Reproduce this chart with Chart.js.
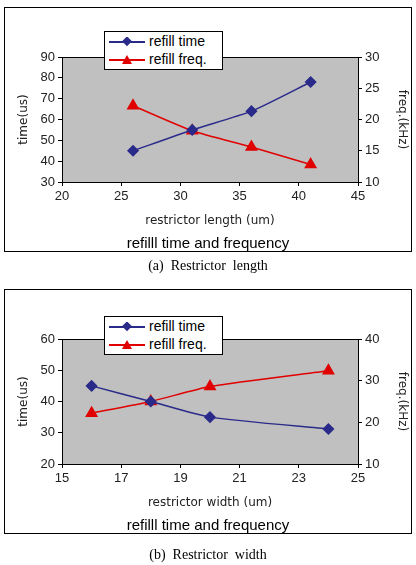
<!DOCTYPE html>
<html><head><meta charset="utf-8">
<script src="https://cdn.jsdelivr.net/npm/chart.js@4"></script>
<style>
body{margin:0;background:#fff;width:416px;height:565px;position:relative;font-family:"Liberation Sans",Arial,sans-serif;overflow:hidden}
.box{position:absolute;left:4px;width:406px;height:243px;border:1px solid #000}
.box canvas{position:absolute;left:0;top:0}
.leg{position:absolute;left:99px;width:117px;height:37px;border:1px solid #000;background:#fff;font-size:14px}
.leg div{height:18px;line-height:18px;white-space:nowrap}
.leg svg{vertical-align:middle;margin:0 4px 0 4px}
.sub{position:absolute;left:0;width:406px;top:226px;text-align:center;font-size:15px}
.cap{position:absolute;left:0;width:416px;text-align:center;font-family:"Liberation Serif",serif;font-size:14px}
</style></head><body>
<div class="box" style="top:7px"><canvas id="c1" width="406" height="243"></canvas>
<div class="leg" style="top:23px"><div><svg width="36" height="10"><line x1="0" y1="5" x2="36" y2="5" stroke="#2a2a8a" stroke-width="2"/><rect x="14" y="1" width="7" height="7" fill="#2a2a8a" transform="rotate(45 18 5)"/></svg>refill time</div><div><svg width="36" height="10"><line x1="0" y1="5" x2="36" y2="5" stroke="#e00000" stroke-width="2"/><polygon points="18,0 23,9 13,9" fill="#e00000"/></svg>refill freq.</div></div>
<div class="sub">refilll time and frequency</div></div>
<div class="cap" style="top:258px">(a)&nbsp; Restrictor&nbsp; length</div>
<div class="box" style="top:289px"><canvas id="c2" width="406" height="243"></canvas>
<div class="leg" style="top:26px"><div><svg width="36" height="10"><line x1="0" y1="5" x2="36" y2="5" stroke="#2a2a8a" stroke-width="2"/><rect x="14" y="1" width="7" height="7" fill="#2a2a8a" transform="rotate(45 18 5)"/></svg>refill time</div><div><svg width="36" height="10"><line x1="0" y1="5" x2="36" y2="5" stroke="#e00000" stroke-width="2"/><polygon points="18,0 23,9 13,9" fill="#e00000"/></svg>refill freq.</div></div>
<div class="sub">refilll time and frequency</div></div>
<div class="cap" style="top:547px">(b)&nbsp; Restrictor&nbsp; width</div>
<script>
// (a) restrictor length
const lengthX = [26, 31, 36, 41];
const lengthTime = [45, 55, 64, 78];
const lengthFreq = [22.2, 18.2, 15.6, 12.8];
// (b) restrictor width
const widthX = [16, 18, 20, 24];
const widthTime = [45, 40, 35, 31.2];
const widthFreq = [22.2, 25, 28.6, 32.4];

const grayArea = {
  id: 'grayArea',
  beforeDraw(chart) {
    const { ctx, chartArea: a } = chart;
    ctx.save();
    ctx.fillStyle = '#c0c0c0';
    ctx.fillRect(a.left, a.top, a.right - a.left, a.bottom - a.top);
    ctx.strokeStyle = '#000';
    ctx.lineWidth = 1;
    ctx.strokeRect(a.left + 0.5, a.top + 0.5, a.right - a.left, a.bottom - a.top);
    ctx.restore();
  }
};

function axis(pos, min, max, step, title, w) {
  const s = {
    type: 'linear', position: pos, min: min, max: max,
    ticks: { stepSize: step, color: '#222', font: { size: 13, family: 'Liberation Sans' } },
    grid: { drawOnChartArea: false, color: '#000', tickLength: 4 },
    border: { color: '#000' },
    title: { display: true, text: title, color: '#222', font: { size: 12, family: 'DejaVu Sans' },
      padding: pos === 'left' ? { top: 12, bottom: 2 } : pos === 'right' ? { top: 2, bottom: 2 } : 2 }
  };
  s.afterFit = pos === 'bottom' ? (sc => { sc.height = w; }) : (sc => { sc.width = w; });
  return s;
}

function makeChart(id, xs, time, freq, xr, yr, fr, xtitle) {
  new Chart(document.getElementById(id).getContext('2d'), {
    type: 'line',
    data: {
      datasets: [
        { label: 'refill time', data: xs.map((x, i) => ({ x: x, y: time[i] })), yAxisID: 'y',
          borderColor: '#2a2a8a', backgroundColor: '#2a2a8a', pointStyle: 'rectRot', pointRadius: 5, borderWidth: 1.5, tension: 0.2 },
        { label: 'refill freq.', data: xs.map((x, i) => ({ x: x, y: freq[i] })), yAxisID: 'y1',
          borderColor: '#e00000', backgroundColor: '#e00000', pointStyle: 'triangle', pointRadius: 6, borderWidth: 1.5, tension: 0.2 }
      ]
    },
    options: {
      responsive: false, animation: false,
      layout: { padding: { top: 49, bottom: 21 } },
      plugins: { legend: { display: false }, tooltip: { enabled: false } },
      scales: {
        x: axis('bottom', xr[0], xr[1], xr[2], xtitle, 48),
        y: axis('left', yr[0], yr[1], yr[2], 'time(us)', 57),
        y1: axis('right', fr[0], fr[1], fr[2], 'freq.(kHz)', 53)
      }
    },
    plugins: [grayArea]
  });
}

makeChart('c1', lengthX, lengthTime, lengthFreq, [20, 45, 5], [30, 90, 10], [10, 30, 5], 'restrictor length (um)');
makeChart('c2', widthX, widthTime, widthFreq, [15, 25, 2], [20, 60, 10], [10, 40, 10], 'restrictor width (um)');
</script>
</body></html>
